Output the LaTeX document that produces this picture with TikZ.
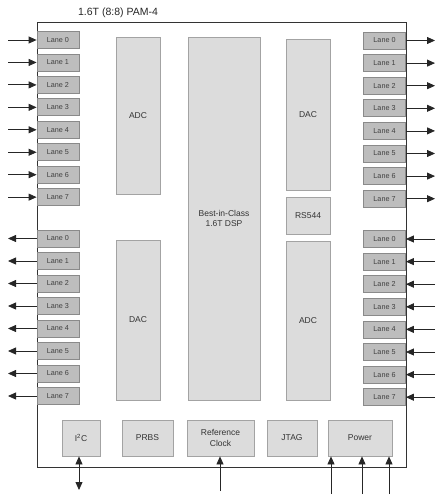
\documentclass[tikz,border=0pt]{standalone}
\usepackage{fontspec}
\setmainfont{Liberation Sans}
\usetikzlibrary{arrows.meta}
\definecolor{lanefill}{HTML}{BDBDBD}
\definecolor{laneedge}{HTML}{8A8A8A}
\definecolor{blkfill}{HTML}{DCDCDC}
\definecolor{blkedge}{HTML}{A3A3A3}
\definecolor{chipedge}{HTML}{333333}
\tikzset{
  lanebox/.style={draw=laneedge, fill=lanefill, line width=0.8pt, minimum width=42pt, minimum height=17pt, inner sep=0pt, font=\fontsize{7.2}{8}\selectfont, text=black!75},
  blk/.style={draw=blkedge, fill=blkfill, line width=0.8pt, inner sep=0pt, font=\fontsize{8.5}{10.5}\selectfont, align=center, text=black!80},
  arr/.style={draw=black!85, line width=0.8pt, -{Triangle[length=8pt,width=7pt]}},
  darr/.style={draw=black!85, line width=0.8pt, {Triangle[length=8pt,width=7pt]}-{Triangle[length=8pt,width=7pt]}},
}
\begin{document}
\begin{tikzpicture}[x=1pt,y=-1pt]
\useasboundingbox (0,0) rectangle (442,500);
\node[font=\fontsize{10.5}{12}\selectfont, text=black!85] (title) at (118,13) {1.6T (8:8) PAM-4};
% chip outline
\draw[chipedge, line width=1pt] (37,23) rectangle (406,467);
\coordinate (chipNW) at (37,23);
% lanes
\foreach \i in {0,...,7}{
  \node[lanebox] (LI\i) at (58,{40+22.45*\i}) {Lane \i};
  \coordinate (LIs\i) at (8,{40+22.45*\i});
  \draw[arr] (LIs\i) -- (LI\i.west);
  \node[lanebox] (LO\i) at (58,{238.5+22.5*\i}) {Lane \i};
  \coordinate (LOe\i) at (8,{238.5+22.5*\i});
  \draw[arr] (LO\i.west) -- (LOe\i);
  \node[lanebox] (RO\i) at (384.5,{40.5+22.6*\i}) {Lane \i};
  \coordinate (ROe\i) at (435,{40.5+22.6*\i});
  \draw[arr] (RO\i.east) -- (ROe\i);
  \node[lanebox] (RI\i) at (384.5,{239+22.6*\i}) {Lane \i};
  \coordinate (RIs\i) at (435,{239+22.6*\i});
  \draw[arr] (RIs\i) -- (RI\i.east);
}
% core blocks
\node[blk, minimum width=44pt, minimum height=157pt] (adcL) at (138,115.5) {ADC};
\node[blk, minimum width=44pt, minimum height=160pt] (dacL) at (138,320) {DAC};
\node[blk, minimum width=72pt, minimum height=363pt] (dsp) at (224,218.5) {Best-in-Class\\1.6T DSP};
\node[blk, minimum width=44pt, minimum height=151pt] (dacR) at (308,114.5) {DAC};
\node[blk, minimum width=44pt, minimum height=37pt] (rs) at (308,215.5) {RS544};
\node[blk, minimum width=44pt, minimum height=159pt] (adcR) at (308,320.5) {ADC};
% bottom blocks
\node[blk, minimum width=38pt, minimum height=36pt] (i2c) at (81,438) {I\textsuperscript{2}C};
\node[blk, minimum width=51pt, minimum height=36pt] (prbs) at (147.5,438) {PRBS};
\node[blk, minimum width=67pt, minimum height=36pt] (ref) at (220.5,438) {Reference\\Clock};
\node[blk, minimum width=50pt, minimum height=36pt] (jtag) at (292,438) {JTAG};
\node[blk, minimum width=64pt, minimum height=36pt] (pwr) at (360,438) {Power};
% bottom connectors
\coordinate (i2cE) at (79,490);
\draw[darr] (i2cE) -- (i2cE |- i2c.south);
\coordinate (refE) at (220,491);
\draw[arr] (refE) -- (refE |- ref.south);
\coordinate (p1) at (331,494);
\coordinate (p2) at (362,494);
\coordinate (p3) at (389,494);
\draw[arr] (p1) -- (p1 |- pwr.south);
\draw[arr] (p2) -- (p2 |- pwr.south);
\draw[arr] (p3) -- (p3 |- pwr.south);
\end{tikzpicture}
\end{document}
